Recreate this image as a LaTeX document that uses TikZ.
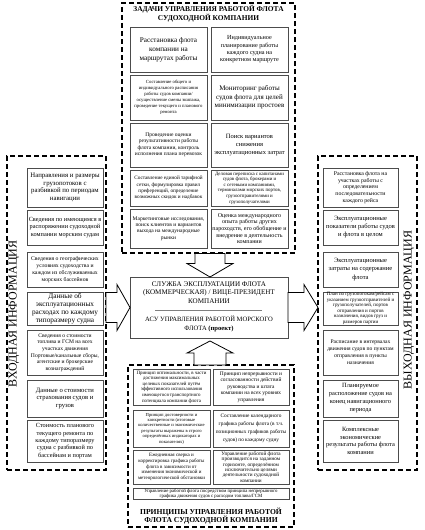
\documentclass[tikz,border=0pt]{standalone}
\usepackage{fontspec}
\setmainfont{Liberation Serif}
\begin{document}
\begin{tikzpicture}[x=1pt,y=1pt,
  bx/.style={draw=black!70, line width=0.8pt, align=center, inner sep=0pt, fill=white},
  fs/.style 2 args={font=\fontsize{#1}{#2}\selectfont},
  dbox/.style={draw=black, line width=1.1pt, dash pattern=on 5pt off 3pt, inner sep=0pt},
  barrow/.style={draw=black, line width=0.8pt, fill=white, line join=miter},
  ttl/.style={align=center, inner sep=0pt},
  sidettl/.style={inner sep=0pt, rotate=90, font=\fontsize{12}{14}\selectfont},
  tl/.style={bx, minimum width=77pt},
  tr/.style={bx, minimum width=77pt},
  cl/.style={bx, minimum width=76pt},
  cr/.style={bx, minimum width=75pt},
]
\useasboundingbox (0,0) rectangle (425,-530);
\fill[white] (0,0) rectangle (425,-530);

% dashed frames
\node[dbox, minimum width=173pt, minimum height=250pt] (topbox) at (208.5,-128) {};
\node[dbox, minimum width=99pt, minimum height=314pt] (inbox) at (56.5,-313) {};
\node[dbox, minimum width=99pt, minimum height=314pt] (outbox) at (367.5,-313) {};
\node[dbox, minimum width=166pt, minimum height=162pt] (prinbox) at (211,-446) {};

% top frame
\node[ttl, font=\bfseries\fontsize{7.4}{7.7}\selectfont] (toptitle) at (208.5,-13.8) {ЗАДАЧИ УПРАВЛЕНИЯ РАБОТОЙ ФЛОТА\\СУДОХОДНОЙ КОМПАНИИ};
\node[tl, fs={7.2}{9}, minimum height=45pt] (t1l) at (168.5,-49.5) {Расстановка флота\\компании на\\маршрутах работы};
\node[tr, fs={6.2}{7.3}, minimum height=45pt] (t1r) at (249.5,-49.5) {Индивидуальное\\планирование работы\\каждого судна на\\конкретном маршруте};
\node[tl, fs={4.7}{6.1}, minimum height=45pt] (t2l) at (168.5,-97.5) {Составление общего и\\индивидуального расписания\\работы судов компании/\\осуществление смены экипажа,\\проведение текущего и планового\\ремонта};
\node[tr, fs={7}{8.6}, minimum height=45pt] (t2r) at (249.5,-97.5) {Мониторинг работы\\судов флота для целей\\минимизации простоев};
\node[tl, fs={5.5}{6.5}, minimum height=44pt] (t3l) at (168.5,-145) {Проведение оценки\\результативности работы\\флота компании, контроль\\исполнения плана перевозок};
\node[tr, fs={6.5}{8}, minimum height=44pt] (t3r) at (249.5,-145) {Поиск вариантов\\снижения\\эксплуатационных затрат};
\node[tl, fs={5.2}{6.3}, minimum height=36pt] (t4l) at (168.5,-188) {Составление единой тарифной\\сетки, формулировка правил\\преференций, определение\\возможных скидок и надбавок};
\node[tr, fs={4.9}{5.6}, minimum height=36pt] (t4r) at (249.5,-188) {Деловая переписка с капитанами\\судов флота, брокерами и\\с сетевыми компаниями,\\терминалами морских портов,\\грузоотправителями и\\грузополучателями};
\node[tl, fs={5.5}{6.2}, minimum height=39pt] (t5l) at (168.5,-228.5) {Маркетинговые исследования,\\поиск клиентов и вариантов\\выхода на международные\\рынки};
\node[tr, fs={6}{6.7}, minimum height=39pt] (t5r) at (249.5,-228.5) {Оценка международного\\опыта работы других\\пароходств, его обобщение и\\внедрение в деятельность\\компании};

% input column
\node[sidettl] (intitle) at (14,-314) {ВХОДНАЯ ИНФОРМАЦИЯ};
\node[cl, fs={6.8}{7.8}, minimum height=39pt] (i1) at (65,-187.5) {Направления и размеры\\грузопотоков с\\разбивкой по периодам\\навигации};
\node[cl, fs={6.3}{7.8}, minimum height=35pt] (i2) at (65,-227.5) {Сведения по имеющимся в\\распоряжении судоходной\\компании морским судам};
\node[cl, fs={5.7}{7}, minimum height=35pt] (i3) at (65,-269.5) {Сведения о географических\\условиях судоходства и\\каждом из обслуживаемых\\морских бассейнов};
\node[cl, fs={7.3}{7.9}, minimum height=33pt] (i4) at (65,-308.5) {Данные об\\эксплуатационных\\расходах по каждому\\типоразмеру судна};
\node[cl, fs={5.6}{6.6}, minimum height=45pt] (i5) at (65,-352.5) {Сведения о стоимости\\топлива и ГСМ на всех\\участках движения\\Портовые/канальные сборы,\\агентские и брокерские\\вознаграждений};
\node[cl, fs={6.6}{7.8}, minimum height=37pt] (i6) at (65,-398.5) {Данные о стоимости\\страхования судов и\\грузов};
\node[cl, fs={6.3}{7.3}, minimum height=42pt] (i7) at (65,-441) {Стоимость планового\\текущего ремонта по\\каждому типоразмеру\\судна с разбивкой по\\бассейнам и портам};

% output column
\node[sidettl] (outtitle) at (409,-310) {ВЫХОДНАЯ ИНФОРМАЦИЯ};
\node[cr, fs={5.8}{6.8}, minimum height=39pt] (o1) at (360.5,-187.5) {Расстановка флота на\\участках работы с\\определением\\последовательности\\каждого рейса};
\node[cr, fs={6.5}{8}, minimum height=35pt] (o2) at (360.5,-227.5) {Эксплуатационные\\показатели работы судов\\и флота в целом};
\node[cr, fs={6.5}{8.3}, minimum height=35pt] (o3) at (360.5,-269.5) {Эксплуатационные\\затраты на содержание\\флота};
\node[cr, fs={5}{5.5}, minimum height=33pt] (o4) at (360.5,-308.5) {План по грузопотокам/рейсам с\\указанием грузоотправителей и\\грузополучателей, портов\\отправления и портов\\назначения, видов груз и\\размеров партии};
\node[cr, fs={5.6}{7}, minimum height=45pt] (o5) at (360.5,-352.5) {Расписание в интервалах\\движения судов по пунктам\\отправления в пункты\\назначения};
\node[cr, fs={6.4}{8}, minimum height=37pt] (o6) at (360.5,-398.5) {Планируемое\\расположение судов на\\конец навигационного\\периода};
\node[cr, fs={6.4}{7.6}, minimum height=42pt] (o7) at (360.5,-441) {Комплексные\\экономические\\результаты работы флота\\компании};

% centre box
\node[bx, minimum width=158pt, minimum height=61pt] (ctr) at (209,-307.5) {};
\node[ttl, fs={7.1}{8.5}] (ctrtop) at (209,-292.5) {СЛУЖБА ЭКСПЛУАТАЦИИ ФЛОТА\\(КОММЕРЧЕСКАЯ) / ВИЦЕ-ПРЕЗИДЕНТ\\КОМПАНИИ};
\node[ttl, fs={6.6}{8.3}] (ctrbot) at (209,-324) {АСУ УПРАВЛЕНИЯ РАБОТОЙ МОРСКОГО\\ФЛОТА \textbf{(проект)}};
\draw[black!50, line width=0.4pt] (155,-310) -- (262,-310);

% principles frame
\node[tl, fs={4.9}{5.6}, minimum height=36pt] (p1l) at (171.5,-387) {Принцип оптимальности, в части\\достижения максимальных\\целевых показателей путём\\эффективного использования\\имеющегося транспортного\\потенциала компании флота};
\node[cl, fs={5.4}{6.5}, minimum height=36pt] (p1r) at (251,-387) {Принцип непрерывности и\\согласованности действий\\руководства и штата\\компании на всех уровнях\\управления};
\node[tl, fs={4.6}{5.4}, minimum height=37pt] (p2l) at (171.5,-428.5) {Принцип достоверности и\\конкретности (итоговые\\количественные и экономические\\результаты выражены в строго\\определённых индикаторах и\\показателях)};
\node[cl, fs={5.3}{7.8}, minimum height=37pt] (p2r) at (251,-428.5) {Составление календарного\\графика работы флота (в т.ч.\\позиционных графиков работы\\судов) по каждому судну};
\node[tl, fs={5}{5.8}, minimum height=34pt] (p3l) at (171.5,-467) {Ежедневная сверка и\\корректировка графика работы\\флота в зависимости от\\изменения экономической и\\метеорологической обстановки};
\node[cl, fs={5.2}{5.4}, minimum height=34pt] (p3r) at (251,-467) {Управление работой флота\\производится на заданном\\горизонте, определённом\\исключительно целями\\деятельности судоходной\\компании};
\node[bx, fs={4.8}{5.2}, minimum width=156pt, minimum height=11pt] (p4) at (211,-493.5) {Управление работой флота посредством принципа непрерывного\\графика движения судов с расходом топлива/ГСМ};
\node[ttl, font=\bfseries\fontsize{7.6}{8.5}\selectfont] (bottitle) at (211,-516) {ПРИНЦИПЫ УПРАВЛЕНИЯ РАБОТОЙ\\ФЛОТА СУДОХОДНОЙ КОМПАНИИ};

% block arrows
\draw[barrow] (195,-253.5) -- (225,-253.5) -- (225,-263.5) -- (233,-263.5) -- (210,-277) -- (187,-263.5) -- (195,-263.5) -- cycle;
\draw[barrow] (194,-365) -- (226,-365) -- (226,-353) -- (233,-353) -- (210,-341) -- (187,-353) -- (194,-353) -- cycle;
\draw[barrow] (106,-292.5) -- (117,-292.5) -- (117,-284.5) -- (130,-307.5) -- (117,-330.5) -- (117,-322.5) -- (106,-322.5) -- cycle;
\draw[barrow] (288,-292.5) -- (304,-292.5) -- (304,-284.5) -- (318,-307.5) -- (304,-330.5) -- (304,-322.5) -- (288,-322.5) -- cycle;
\end{tikzpicture}
\end{document}
